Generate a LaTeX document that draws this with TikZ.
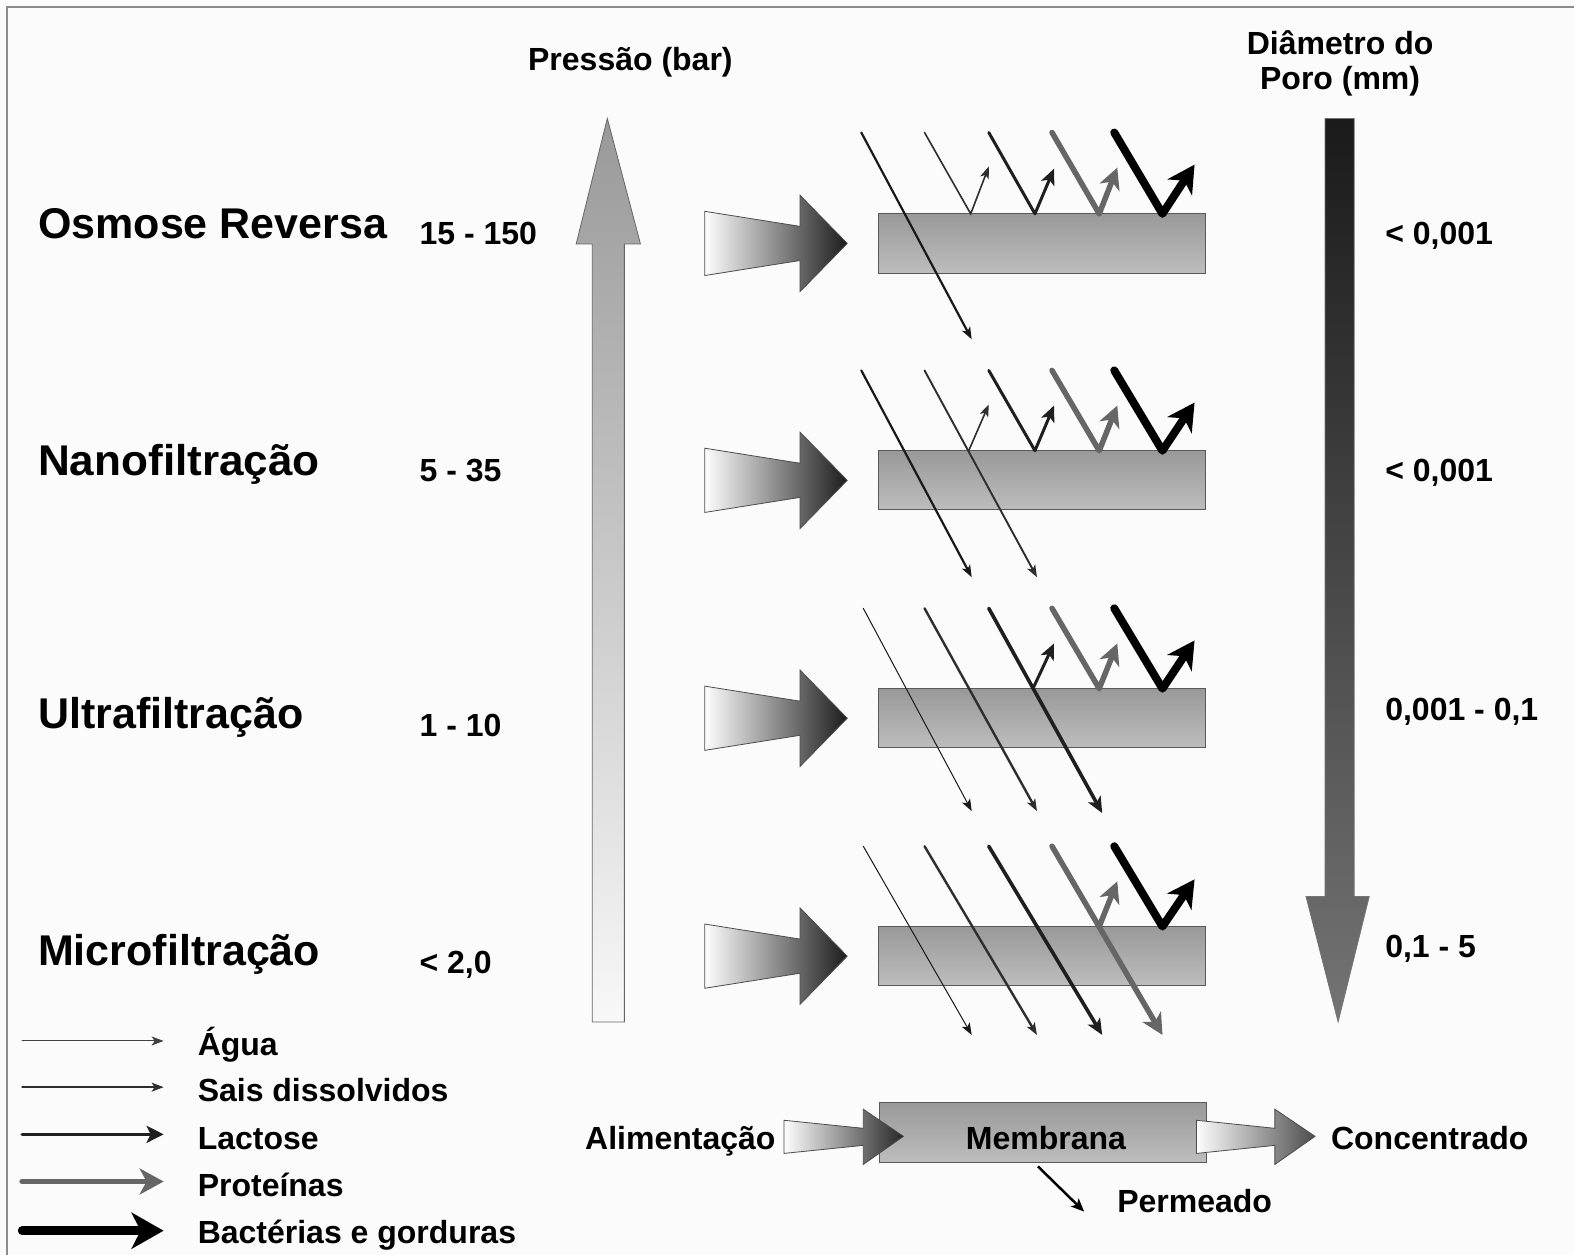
\documentclass[tikz,border=0pt]{standalone}
\usepackage{fontspec}
\setmainfont{Liberation Sans}
\usetikzlibrary{arrows.meta,calc}
\definecolor{bg}{HTML}{FBFBFB}
\definecolor{framec}{HTML}{8C8C8C}
\definecolor{protg}{HTML}{666666}
\definecolor{memtop}{HTML}{999999}
\definecolor{membot}{HTML}{BDBDBD}
\definecolor{prestop}{HTML}{999999}
\definecolor{presbot}{HTML}{F8F8F8}
\definecolor{poretop}{HTML}{1A1A1A}
\definecolor{porebot}{HTML}{747474}
\definecolor{feedl}{HTML}{FDFDFD}
\definecolor{feedr}{HTML}{1C1C1C}
\begin{document}
\begin{tikzpicture}[x=1.0038pt,y=-1.0038pt,
  every node/.style={inner sep=0pt,outer sep=0pt},
  biglbl/.style={font=\fontsize{43}{50}\selectfont\bfseries,anchor=base west},
  numlbl/.style={font=\fontsize{32}{38}\selectfont\bfseries,anchor=base west},
  ttl/.style={font=\fontsize{32}{38}\selectfont\bfseries,anchor=base},
  membox/.style={top color=memtop,bottom color=membot,draw=black!65,line width=0.9pt},
  feedarrow/.style={left color=feedl,right color=feedr,draw=black!70,line width=0.8pt},
  agualn/.style={line width=#1,draw=black!90,line cap=round,-{Stealth[length=12pt,width=9pt,inset=3pt]}},
  agualn/.default=1pt,
  saisln/.style={line width=#1,draw=black!82,line cap=round,-{Stealth[length=12pt,width=9pt,inset=3pt]}},
  saisln/.default=1.9pt,
  lactln/.style={line width=#1,draw=black!88,line cap=round,line join=round,-{Stealth[length=16pt,width=14pt,inset=4pt]}},
  lactln/.default=3.4pt,
  protln/.style={line width=5.5pt,draw=protg,line cap=round,line join=round,-{Stealth[length=21pt,width=21pt,inset=6pt]}},
  bactln/.style={line width=8pt,draw=black,line cap=round,line join=round,-{Stealth[length=27pt,width=29pt,inset=8pt]}},
  permln/.style={line width=2.5pt,draw=black,-{Stealth[length=13pt,width=11pt,inset=3pt]}}
]
\useasboundingbox (0,0) rectangle (1568,1250);
\fill[bg] (0,0) rectangle (1568,1250);
\draw[framec,line width=2pt] (1568,7) -- (7,7) -- (7,1250);

% titles
\node[ttl] (pres) at (628,70) {Pressão (bar)};
\node[ttl] (diam1) at (1335,54) {Diâmetro do};
\node[ttl] (diam2) at (1335,89) {Poro (mm)};

% pressure arrow (up)
\shadedraw[top color=prestop,bottom color=presbot,draw=black!60,line width=0.8pt]
  (590,1018) -- (590,243) -- (574,243) -- (605,118) -- (638,243) -- (622,243) -- (622,1018) -- cycle;
% pore diameter arrow (down)
\shadedraw[top color=poretop,bottom color=porebot,draw=black!55,line width=0.8pt]
  (1320,118) -- (1349,118) -- (1349,893) -- (1364,893) -- (1333,1018) -- (1301,893) -- (1320,893) -- cycle;

% left labels
\node[biglbl] (osm) at (38,238) {Osmose Reversa};
\node[biglbl,xscale=1.025] (nano) at (38,474) {Nanofiltração};
\node[biglbl] (ultra) at (38,726) {Ultrafiltração};
\node[biglbl] (micro) at (38,962) {Microfiltração};

% pressure values
\node[numlbl] (p1) at (418,244) {15 - 150};
\node[numlbl] (p2) at (418,480) {5 - 35};
\node[numlbl] (p3) at (418,734) {1 - 10};
\node[numlbl] (p4) at (418,970) {< 2,0};

% pore values
\node[numlbl] (d1) at (1380,244) {< 0,001};
\node[numlbl] (d2) at (1380,480) {< 0,001};
\node[numlbl] (d3) at (1380,718) {0,001 - 0,1};
\node[numlbl] (d4) at (1380,954) {0,1 - 5};

% feed arrows and membranes for the four rows
\foreach \t in {213,449,686,923}{
  \pgfmathsetmacro{\c}{\t+29.5}
  \shadedraw[feedarrow] (702,\c-32) -- (797,\c-17) -- (797,\c-48) -- (844,\c) -- (797,\c+48) -- (797,\c+17) -- (702,\c+32) -- cycle;
  \shadedraw[membox] (875,\t) rectangle (1201,\t+59);
}

% row 1: osmose reversa
\draw[agualn=2.2pt] (858,132) -- (968,338);
\draw[saisln=1.6pt] (921,132) -- (967,213) -- (985,166);
\draw[lactln=3pt] (985,132) -- (1031,213) -- (1050,168);
\draw[protln] (1048,132) -- (1095,213) -- (1113,167);
\draw[bactln] (1110,132) -- (1158,213) -- (1190,164);

% row 2: nanofiltracao
\draw[agualn=2.2pt] (858,369) -- (968,575);
\draw[saisln] (921,369) -- (1033,575);
\draw[saisln=1.6pt] (965,449) -- (985,403);
\draw[lactln=3pt] (985,369) -- (1031,449) -- (1050,404);
\draw[protln] (1048,369) -- (1095,449) -- (1113,404);
\draw[bactln] (1110,369) -- (1158,449) -- (1190,401);

% row 3: ultrafiltracao
\draw[agualn] (860,606) -- (968,808);
\draw[saisln=2.4pt] (921,606) -- (1033,808);
\draw[lactln=3.6pt] (985,606) -- (1098,810);
\draw[lactln=3pt] (1029,686) -- (1050,641);
\draw[protln] (1048,606) -- (1095,686) -- (1113,641);
\draw[bactln] (1110,606) -- (1158,686) -- (1190,638);

% row 4: microfiltracao
\draw[agualn] (860,843) -- (968,1031);
\draw[saisln=2.4pt] (921,843) -- (1033,1031);
\draw[lactln=3.6pt] (985,843) -- (1098,1031);
\draw[protln] (1048,843) -- (1158,1031);
\draw[protln] (1095,923) -- (1113,878);
\draw[bactln] (1110,843) -- (1158,923) -- (1190,876);

% legend
\coordinate (la1) at (22,1037); \coordinate (lb1) at (163,1037);
\coordinate (la2) at (22,1083); \coordinate (lb2) at (163,1083);
\coordinate (la3) at (22,1130); \coordinate (lb3) at (163,1130);
\coordinate (la4) at (22,1177); \coordinate (lb4) at (163,1177);
\coordinate (la5) at (22,1226); \coordinate (lb5) at (163,1226);
\draw[agualn,draw=black!75] (la1) -- (lb1);
\draw[saisln=1.5pt] (la2) -- (lb2);
\draw[lactln=3.2pt,-{Stealth[length=17pt,width=17pt,inset=4pt]}] (la3) -- (lb3);
\draw[protln,line width=5.5pt,-{Stealth[length=24pt,width=26pt,inset=7pt]}] (la4) -- (lb4);
\draw[bactln,line width=8.5pt,-{Stealth[length=32pt,width=36pt,inset=9pt]}] (la5) -- (lb5);
\node[numlbl] (lg1) at (197,1051) {Água};
\node[numlbl] (lg2) at (197,1097) {Sais dissolvidos};
\node[numlbl] (lg3) at (197,1145) {Lactose};
\node[numlbl] (lg4) at (197,1192) {Proteínas};
\node[numlbl] (lg5) at (197,1239) {Bactérias e gorduras};

% bottom schematic
\shadedraw[membox] (876,1098) rectangle (1202,1158);
\node[ttl] (memb) at (1042,1145) {Membrana};
\shadedraw[feedarrow,right color=black!85] (781,1116) -- (860,1124) -- (860,1105) -- (900,1132) -- (860,1160) -- (860,1141) -- (781,1149) -- cycle;
\shadedraw[feedarrow,right color=black!70] (1192,1116) -- (1270,1124) -- (1270,1105) -- (1310,1132) -- (1270,1160) -- (1270,1141) -- (1192,1149) -- cycle;
\node[numlbl] (alim) at (583,1145) {Alimentação};
\node[numlbl] (conc) at (1326,1145) {Concentrado};
\node[numlbl] (perm) at (1113,1208) {Permeado};
\coordinate (pa) at (1034,1162);
\coordinate (pb) at (1080,1207);
\draw[permln] (pa) -- (pb);
\end{tikzpicture}
\end{document}
